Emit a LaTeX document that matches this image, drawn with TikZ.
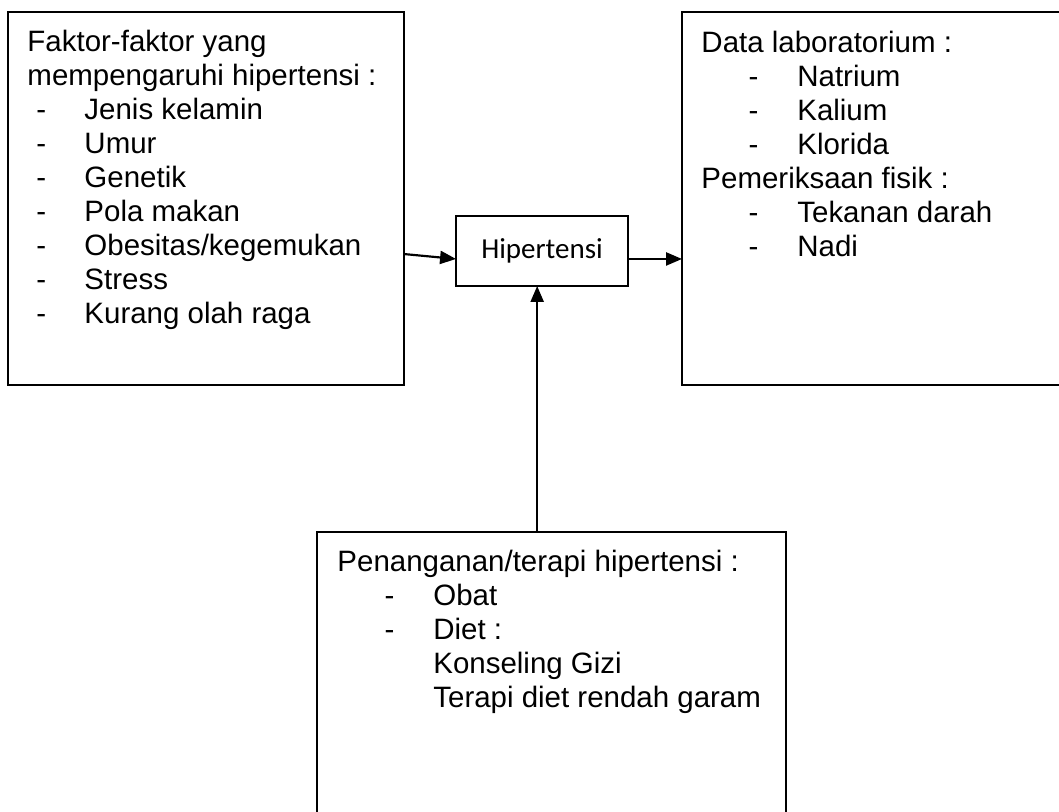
\documentclass[tikz,border=0pt]{standalone}
\usepackage{fontspec}
\setmainfont{Liberation Sans}
\newfontfamily\carlito{Carlito}
\usetikzlibrary{arrows.meta,positioning}
\newcommand{\dashitem}[2]{\makebox[#1][l]{\hspace*{#2}-}}

\begin{document}
\begin{tikzpicture}[x=0.414pt,y=-0.414pt,>={Triangle[length=6.6pt,width=5.4pt]},
  box/.style={draw,line width=0.7pt,inner sep=0pt,outer sep=0pt},
  listtext/.style={anchor=north west,align=left,inner sep=0pt,font=\fontsize{12.2}{14.1}\selectfont},
  link/.style={->,line width=0.9pt}]
\useasboundingbox (0,0) rectangle (1059,812);
\clip (0,0) rectangle (1059,812);
% boxes
\node[box,anchor=north west,minimum width=163.9pt,minimum height=154.4pt] (faktor) at (8,12) {};
\node[box,minimum width=71.2pt,minimum height=29pt,font=\carlito\fontsize{12}{14}\selectfont] (hiper) at (542,251) {Hipertensi};
\node[box,draw=none,anchor=north west,minimum width=180pt,minimum height=154.4pt] (datalab) at (682,12) {};
\draw[line width=0.7pt] (datalab.north east) -- (datalab.north west) -- (datalab.south west) -- (datalab.south east);
\node[box,draw=none,anchor=north west,minimum width=194.2pt,minimum height=130pt] (terapi) at (317,532) {};
\draw[line width=0.7pt] (terapi.south west) -- (terapi.north west) -- (terapi.north east) -- (terapi.south east);
% texts
\node[listtext] (faktortext) at ([shift={(19,15)}]faktor.north west) {\strut Faktor-faktor yang\\
  mempengaruhi hipertensi :\\
  \dashitem{23.6pt}{3.7pt}Jenis kelamin\\
  \dashitem{23.6pt}{3.7pt}Umur\\
  \dashitem{23.6pt}{3.7pt}Genetik\\
  \dashitem{23.6pt}{3.7pt}Pola makan\\
  \dashitem{23.6pt}{3.7pt}Obesitas/kegemukan\\
  \dashitem{23.6pt}{3.7pt}Stress\\
  \dashitem{23.6pt}{3.7pt}Kurang olah raga};
\node[listtext] (datalabtext) at ([shift={(19,16)}]datalab.north west) {\strut Data laboratorium :\\
  \dashitem{39.7pt}{19.5pt}Natrium\\
  \dashitem{39.7pt}{19.5pt}Kalium\\
  \dashitem{39.7pt}{19.5pt}Klorida\\
  Pemeriksaan fisik :\\
  \dashitem{39.7pt}{19.5pt}Tekanan darah\\
  \dashitem{39.7pt}{19.5pt}Nadi};
\node[listtext] (terapitext) at ([shift={(20,15)}]terapi.north west) {\strut Penanganan/terapi hipertensi :\\
  \dashitem{39.7pt}{19.5pt}Obat\\
  \dashitem{39.7pt}{19.5pt}Diet :\\
  \hspace*{39.7pt}Konseling Gizi\\
  \hspace*{39.7pt}Terapi diet rendah garam};
% arrows
\draw[link] ([yshift=-23pt]faktor.east) -- ([yshift=-3.3pt]hiper.west);
\coordinate (hr) at ([yshift=-3.3pt]hiper.east);
\draw[link] (hr) -- (hr -| datalab.west);
\coordinate (hv) at ([xshift=-2pt]hiper.south);
\draw[link] (hv |- terapi.north) -- (hv);
\end{tikzpicture}
\end{document}
